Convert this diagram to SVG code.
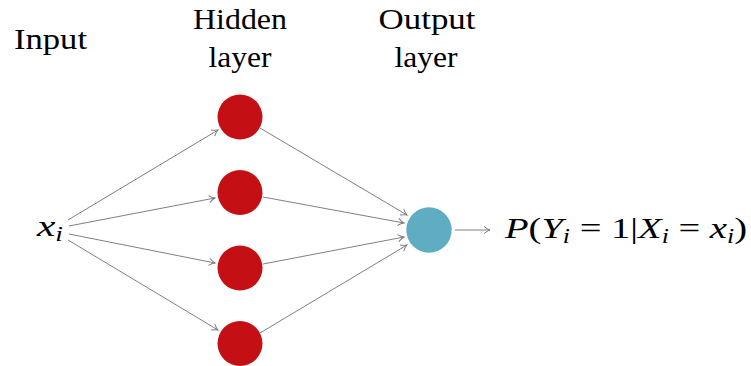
<svg xmlns="http://www.w3.org/2000/svg" width="751" height="366" viewBox="0 0 751 366">
<style>
.lbl{font-size:29px;fill:#000;text-anchor:middle}
.math{font-size:30px;fill:#000}
.it{font-style:italic}
.hid{fill:#C40F15}
.out{fill:#5EADC3}
.edge{stroke:#808080;stroke-width:1;fill:none;marker-end:url(#arr)}
</style>
<defs>
<marker id="arr" markerUnits="userSpaceOnUse" markerWidth="12" markerHeight="12" refX="0" refY="0" viewBox="-8 -6 10 12" orient="auto" overflow="visible">
<path d="M-6,-3.6 Q-3,-1 0,0 Q-3,1 -6,3.6" fill="none" stroke="#808080" stroke-width="1"/>
</marker>
</defs>
<g id="labels" font-family="Liberation Serif, serif">
<text class="lbl" x="50.5" y="49" textLength="73" lengthAdjust="spacingAndGlyphs">Input</text>
<text class="lbl" x="240" y="29" textLength="94" lengthAdjust="spacingAndGlyphs">Hidden</text>
<text class="lbl" x="240" y="67" textLength="63" lengthAdjust="spacingAndGlyphs">layer</text>
<text class="lbl" x="427" y="29" textLength="97" lengthAdjust="spacingAndGlyphs">Output</text>
<text class="lbl" x="426" y="67" textLength="63" lengthAdjust="spacingAndGlyphs">layer</text>
</g>
<g id="input" font-family="Liberation Serif, serif">
<text class="math" x="37" y="236" textLength="26" lengthAdjust="spacingAndGlyphs"><tspan class="it">x</tspan><tspan class="it" font-size="20" dy="5">i</tspan></text>
</g>
<g id="connectors">
<line class="edge" x1="68" y1="220" x2="218" y2="130"/>
<line class="edge" x1="69" y1="226" x2="215" y2="198"/>
<line class="edge" x1="69" y1="234" x2="215" y2="263"/>
<line class="edge" x1="68" y1="240" x2="218" y2="330"/>
<line class="edge" x1="260" y1="128" x2="407" y2="215"/>
<line class="edge" x1="263" y1="197" x2="404" y2="223"/>
<line class="edge" x1="263" y1="264" x2="404" y2="237"/>
<line class="edge" x1="260" y1="333" x2="407" y2="245"/>
<line class="edge" x1="455" y1="230" x2="490" y2="230"/>
</g>
<g id="h1"><circle class="hid" cx="240" cy="117" r="22.5"/></g>
<g id="h2"><circle class="hid" cx="240" cy="192.5" r="22.5"/></g>
<g id="h3"><circle class="hid" cx="240" cy="268" r="22.5"/></g>
<g id="h4"><circle class="hid" cx="240" cy="343.5" r="22.5"/></g>
<g id="o1"><circle class="out" cx="429" cy="230" r="22.7"/></g>
<g id="result" font-family="Liberation Serif, serif">
<text class="math" x="505" y="238" textLength="242" lengthAdjust="spacingAndGlyphs"><tspan class="it">P</tspan>(<tspan class="it">Y</tspan><tspan class="it" font-size="20" dy="5">i</tspan><tspan dy="-5"> = 1|</tspan><tspan class="it">X</tspan><tspan class="it" font-size="20" dy="5">i</tspan><tspan dy="-5"> = </tspan><tspan class="it">x</tspan><tspan class="it" font-size="20" dy="5">i</tspan><tspan dy="-5">)</tspan></text>
</g>
</svg>
